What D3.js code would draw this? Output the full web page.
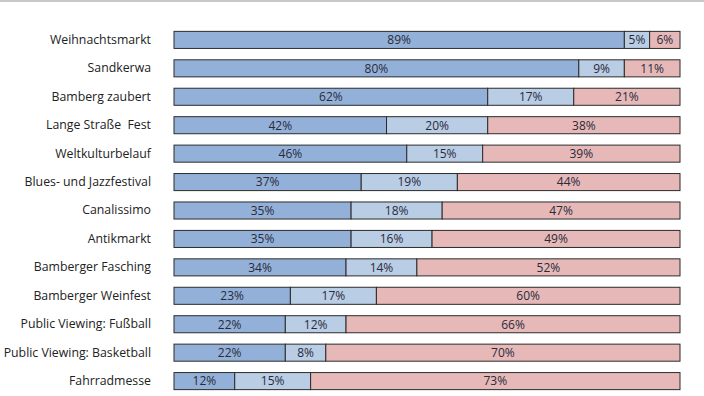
<!DOCTYPE html>
<html>
<head>
<meta charset="utf-8">
<script src="https://cdn.jsdelivr.net/npm/d3@7"></script>
<style>
  body { margin:0; background:#fff; }
  svg { display:block; }
</style>
</head>
<body>
<div class="svg-container"></div>
<script>
// categories and shares (%)
const events = ['Weihnachtsmarkt','Sandkerwa','Bamberg zaubert','Lange Straße  Fest','Weltkulturbelauf',
  'Blues- und Jazzfestival','Canalissimo','Antikmarkt','Bamberger Fasching','Bamberger Weinfest',
  'Public Viewing: Fußball','Public Viewing: Basketball','Fahrradmesse'];
const seriesA = [89,80,62,42,46,37,35,35,34,23,22,22,12];
const seriesB = [5,9,17,20,15,19,18,16,14,17,12,8,15];
const seriesC = [6,11,21,38,39,44,47,49,52,60,66,70,73];
const colors = ['#93b1d8','#b9cde5','#e6b9b8'];

const width = 704, height = 396;

const svg = d3.select('.svg-container')
    .append('svg')
    .attr('width', width)
    .attr('height', height);

// thin window frame line at top
svg.append('rect')
    .attr('x', 0).attr('y', 0)
    .attr('width', width).attr('height', 2)
    .attr('fill', '#c8c8c8');

const xScale = d3.scaleLinear()
    .domain([0, 100])
    .range([174, 680]);

const yScale = d3.scaleBand()
    .domain(events)
    .range([20, 401])
    .padding(0.4);

const rows = events.map((e, i) => ({ event: e, a: seriesA[i], b: seriesB[i], c: seriesC[i] }));
const stack = d3.stack().keys(['a','b','c'])(rows);

const groups = svg.selectAll('.series')
    .data(stack)
    .join('g')
    .attr('class', 'series')
    .attr('fill', (d, i) => colors[i]);

groups.selectAll('rect')
    .data(d => d)
    .join('rect')
    .attr('x', d => xScale(d[0]))
    .attr('y', d => yScale(d.data.event))
    .attr('width', d => xScale(d[1]) - xScale(d[0]))
    .attr('height', yScale.bandwidth())
    .attr('stroke', '#2b2b2b')
    .attr('stroke-width', 1);

groups.selectAll('text')
    .data(d => d)
    .join('text')
    .attr('x', d => (xScale(d[0]) + xScale(d[1])) / 2)
    .attr('y', d => yScale(d.data.event) + yScale.bandwidth() / 2)
    .attr('dy', '0.36em')
    .attr('text-anchor', 'middle')
    .attr('fill', '#2a2a3a')
    .attr('font-family', '"Open Sans", sans-serif')
    .attr('font-size', 12)
    .text(d => (d[1] - d[0]) + '%');

// category labels
const yAxis = d3.axisLeft(yScale).tickSize(0).tickPadding(0);
svg.append('g')
    .attr('transform', 'translate(151,0)')
    .call(yAxis)
    .call(g => g.select('.domain').remove())
    .call(g => g.selectAll('text')
        .attr('fill', '#222')
        .style('white-space', 'pre')
        .attr('font-family', '"Open Sans", sans-serif')
        .attr('font-size', 12.3));
</script>
</body>
</html>
